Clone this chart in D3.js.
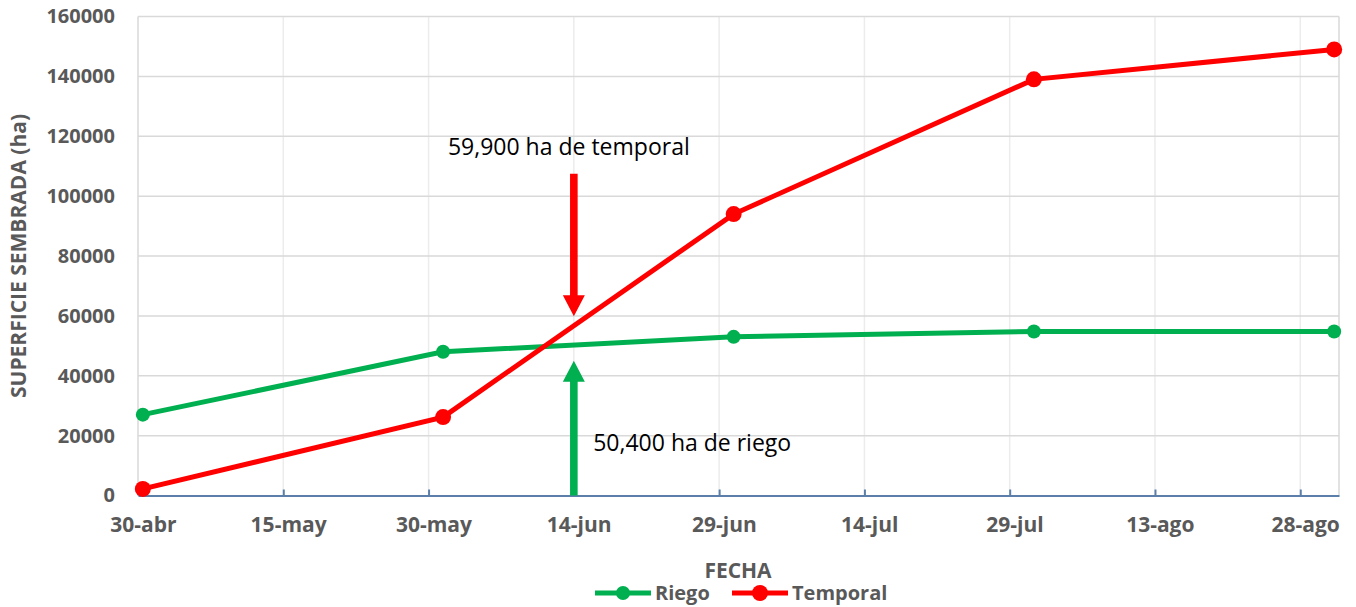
<!DOCTYPE html>
<html>
<head>
<meta charset="utf-8">
<script src="https://cdn.jsdelivr.net/npm/d3@7"></script>
<style>
  body { margin: 0; background: #fff; }
  svg { display: block; font-family: "Open Sans", sans-serif; }
</style>
</head>
<body>
<div id="chart"></div>
<script>
// Data
const tickLabels = ["30-abr", "15-may", "30-may", "14-jun", "29-jun", "14-jul", "29-jul", "13-ago", "28-ago"];
const fechas = ["30-abr", "31-may", "30-jun", "31-jul", "31-ago"];
const riego = [27000, 48000, 53000, 54800, 54800];
const temporal = [2200, 26200, 94000, 139000, 149000];
const yTicks = [0, 20000, 40000, 60000, 80000, 100000, 120000, 140000, 160000];

// arrows: [date, from value, to value]
const arrowTemporal = ["14-jun", 107500, 59900];
const arrowRiego = ["14-jun", 0, 45000];
const labelTemporal = ["1-jun", 113700, "59,900 ha de temporal"];
const labelRiego = ["16-jun", 15000, "50,400 ha de riego"];

// Dimensions
const width = 1356, height = 607;
const margin = {left: 138, right: 17, top: 16.5, bottom: 111.5};
const xMax = width - margin.left - margin.right;
const yMax = height - margin.top - margin.bottom;

const meses = {abr: 3, may: 4, jun: 5, jul: 6, ago: 7, sep: 8};
function parseFecha(s) {
  const p = s.split("-");
  return new Date(Date.UTC(2019, meses[p[1]], +p[0]));
}
const halfDay = 12 * 3600 * 1000;

const svg = d3.select("#chart").append("svg")
  .attr("width", width)
  .attr("height", height);

const g = svg.append("g")
  .attr("transform", "translate(" + margin.left + "," + margin.top + ")");

// Scales
const xScale = d3.scaleUtc()
  .domain([parseFecha("30-abr"), parseFecha("1-sep")])
  .range([0, xMax]);

const yScale = d3.scaleLinear()
  .domain([0, 160000])
  .range([yMax, 0]);

const tickDates = tickLabels.map(parseFecha);

// Vertical gridlines
g.selectAll(".vgrid")
  .data(tickDates.slice(1))
  .enter().append("line")
  .attr("x1", d => xScale(d)).attr("x2", d => xScale(d))
  .attr("y1", 0).attr("y2", yMax)
  .attr("stroke", "#ececec")
  .attr("stroke-width", 1.5);

// Horizontal gridlines
g.selectAll(".hgrid")
  .data(yTicks.slice(1))
  .enter().append("line")
  .attr("x1", 0).attr("x2", xMax)
  .attr("y1", d => yScale(d)).attr("y2", d => yScale(d))
  .attr("stroke", "#d9d9d9")
  .attr("stroke-width", 1.5);

// plot border left / right
[0, xMax].forEach(x => {
  g.append("line")
    .attr("x1", x).attr("x2", x).attr("y1", 0).attr("y2", yMax)
    .attr("stroke", "#d9d9d9").attr("stroke-width", 1.5);
});

// X Axis
const xAxis = g.append("g")
  .attr("transform", "translate(0," + yMax + ")")
  .call(d3.axisBottom(xScale)
    .tickValues(tickDates)
    .tickSizeInner(-6)
    .tickSizeOuter(0)
    .tickFormat((d, i) => tickLabels[i]));
xAxis.select(".domain").attr("stroke", "#5b7fa8").attr("stroke-width", 2);
xAxis.selectAll(".tick line").attr("stroke", "#5b7fa8").attr("stroke-width", 2);
xAxis.selectAll(".tick text")
  .attr("dx", xScale(new Date(tickDates[0].getTime() + halfDay)))
  .attr("y", 22)
  .attr("dy", "0.71em")
  .style("font-family", "Open Sans")
  .style("font-size", "21px")
  .style("font-weight", "bold")
  .attr("fill", "#595959");

// Y Axis
const yAxis = g.append("g")
  .call(d3.axisLeft(yScale).tickValues(yTicks).tickSize(0).tickPadding(23)
    .tickFormat(d3.format("d")));
yAxis.select(".domain").remove();
yAxis.selectAll(".tick text")
  .style("font-family", "Open Sans")
  .style("font-size", "20px")
  .style("font-weight", "bold")
  .attr("fill", "#595959");

// Lines
const line = d3.line()
  .x((d, i) => xScale(new Date(parseFecha(fechas[i]).getTime() + halfDay)))
  .y(d => yScale(d));

const series = [
  {name: "Riego", values: riego, color: "#00b050", r: 7},
  {name: "Temporal", values: temporal, color: "#ff0000", r: 8}
];

series.forEach(s => {
  g.append("path")
    .datum(s.values)
    .attr("d", line)
    .attr("fill", "none")
    .attr("stroke", s.color)
    .attr("stroke-width", 5);
  g.selectAll(".dot-" + s.name)
    .data(s.values)
    .enter().append("circle")
    .attr("cx", (d, i) => xScale(new Date(parseFecha(fechas[i]).getTime() + halfDay)))
    .attr("cy", d => yScale(d))
    .attr("r", s.r)
    .attr("fill", s.color);
});

// Arrows
function drawArrow(a, color) {
  const x = xScale(parseFecha(a[0]));
  const y0 = yScale(a[1]), y1 = yScale(a[2]);
  const dir = y1 > y0 ? 1 : -1;
  const headLen = 21, headW = 11, shaft = 3.8;
  const yb = y1 - dir * headLen;
  g.append("path")
    .attr("d", "M" + (x - shaft) + "," + y0 + "L" + (x + shaft) + "," + y0 +
      "L" + (x + shaft) + "," + yb + "L" + (x + headW) + "," + yb +
      "L" + x + "," + y1 + "L" + (x - headW) + "," + yb +
      "L" + (x - shaft) + "," + yb + "Z")
    .attr("fill", color);
}
drawArrow(arrowTemporal, "#ff0000");
drawArrow(arrowRiego, "#00b050");

[labelTemporal, labelRiego].forEach(l => {
  g.append("text")
    .attr("x", xScale(parseFecha(l[0])))
    .attr("y", yScale(l[1]))
    .style("font-size", "23px")
    .attr("fill", "#000")
    .text(l[2]);
});

// Axis titles
svg.append("text")
  .attr("x", 738)
  .attr("y", 578)
  .style("text-anchor", "middle")
  .style("font-size", "21px")
  .style("font-weight", "bold")
  .attr("fill", "#595959")
  .text("FECHA");

svg.append("text")
  .attr("transform", "translate(26," + (margin.top + yMax / 2) + ") rotate(-90)")
  .style("text-anchor", "middle")
  .style("font-size", "21px")
  .style("font-weight", "bold")
  .attr("fill", "#595959")
  .text("SUPERFICIE SEMBRADA (ha)");

// Legend
const legend = svg.append("g").attr("transform", "translate(595,593)");
let lx = 0;
series.forEach(s => {
  const item = legend.append("g").attr("transform", "translate(" + lx + ",0)");
  item.append("line")
    .attr("x1", 0).attr("x2", 56).attr("y1", 0).attr("y2", 0)
    .attr("stroke", s.color).attr("stroke-width", 5);
  item.append("circle").attr("cx", 28).attr("cy", 0).attr("r", s.r).attr("fill", s.color);
  item.append("text")
    .attr("x", 60).attr("y", 7)
    .style("font-size", "20px")
    .style("font-weight", "bold")
    .attr("fill", "#595959")
    .text(s.name);
  lx += 137;
});
</script>
</body>
</html>
